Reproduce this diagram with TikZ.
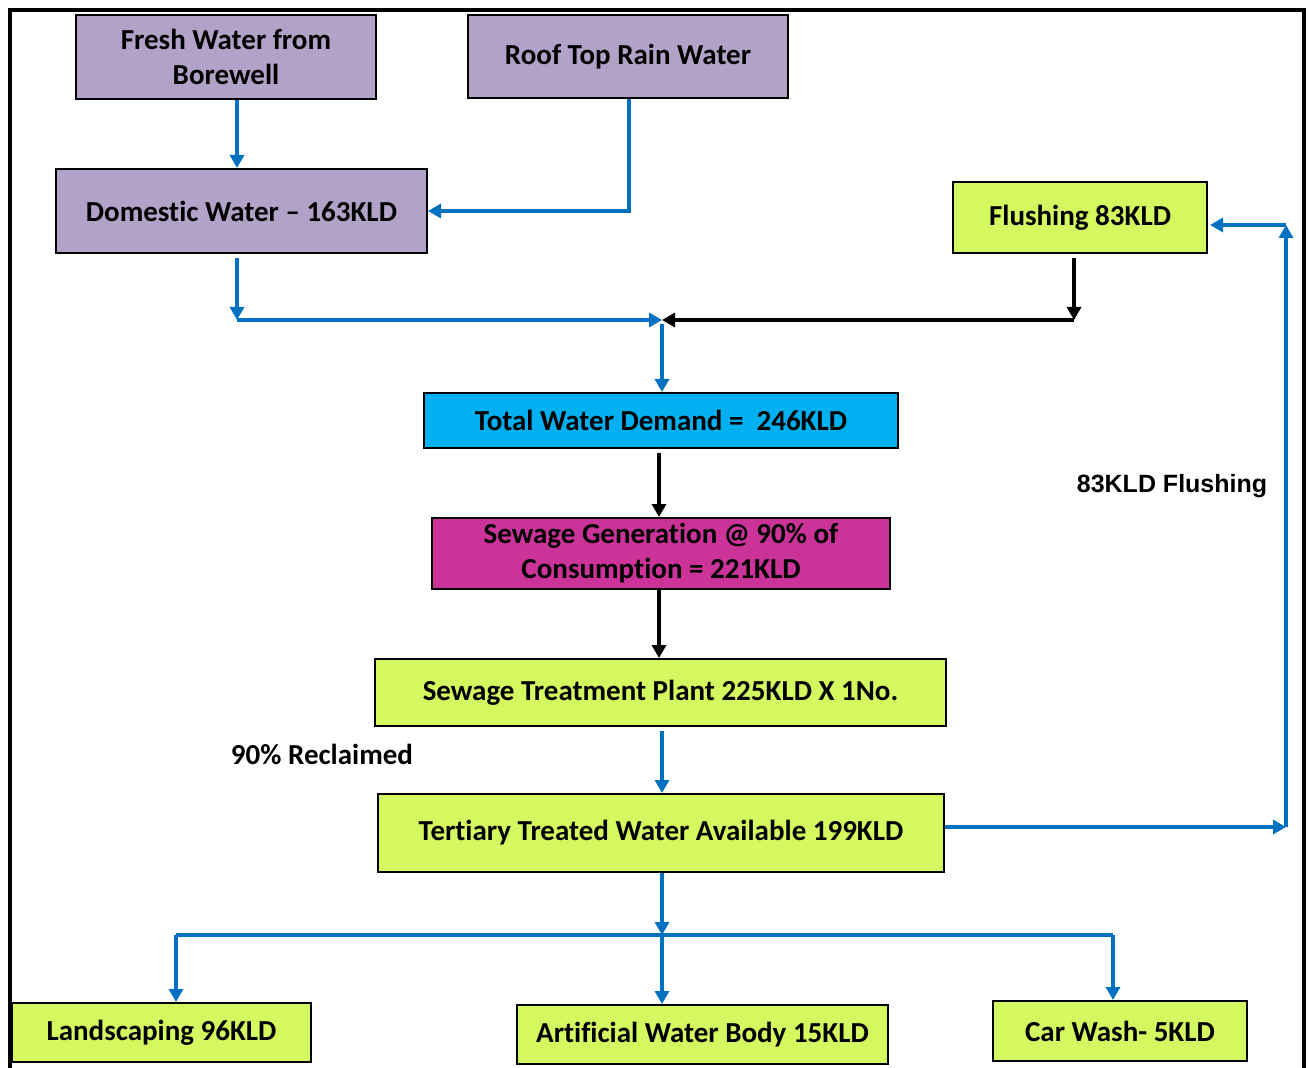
\documentclass[tikz,border=0pt]{standalone}
\usepackage{fontspec}
\setmainfont{Carlito}[RawFeature={-liga;-clig;-calt;-dlig}]
\newfontfamily\arialfont{Liberation Sans}
\usetikzlibrary{arrows.meta}
\definecolor{boxpurple}{RGB}{179,162,199}
\definecolor{boxlime}{RGB}{212,248,96}
\definecolor{boxblue}{RGB}{0,176,240}
\definecolor{boxmag}{RGB}{204,51,153}
\definecolor{arrblue}{RGB}{0,112,192}
\tikzset{
  box/.style={draw=black, line width=1pt, inner sep=0pt, align=center,
    font=\fontsize{14.5}{17.5}\selectfont\bfseries},
  pbox/.style={box, fill=boxpurple},
  lbox/.style={box, fill=boxlime},
  barrow/.style={draw=arrblue, line width=2pt, -{Triangle[length=6.5pt,width=7pt]}},
  bline/.style={draw=arrblue, line width=2pt},
  karrow/.style={draw=black, line width=2pt, -{Triangle[length=6.5pt,width=7pt]}},
  lbl/.style={font=\fontsize{14.5}{17.5}\selectfont\bfseries}
}
\begin{document}
\begin{tikzpicture}[x=0.5pt,y=-0.5pt]
\useasboundingbox (0,0) rectangle (1309,1068);
\fill[white] (0,0) rectangle (1309,1068);
\draw[line width=2pt] (10,1090) -- (10,10) -- (1304,10) -- (1304,1090);

\node[pbox, minimum width=150pt, minimum height=42pt] (bore) at (226,57) {Fresh Water from\\Borewell};
\node[pbox, minimum width=160pt, minimum height=41.5pt] (roof) at (628,56.5) {Roof Top Rain Water};
\node[pbox, minimum width=185.5pt, minimum height=42pt] (dom) at (241.5,211) {Domestic Water -- 163KLD};
\node[lbox, minimum width=127pt, minimum height=35.5pt] (flush) at (1080,217.5) {Flushing 83KLD};
\node[box, fill=boxblue, minimum width=237pt, minimum height=27.5pt] (total) at (661,420.5) {Total Water Demand =\ \ 246KLD};
\node[box, fill=boxmag, minimum width=229pt, minimum height=35.5pt] (sew) at (661,553.5) {Sewage Generation @ 90\% of\\Consumpt\kern0pt ion = 221KLD};
\node[lbox, minimum width=285.5pt, minimum height=33.5pt] (stp) at (660.5,692.5) {Sewage Treatment Plant 225KLD X 1No.};
\node[lbox, minimum width=283pt, minimum height=39pt] (tert) at (661,833) {Tert\kern0pt iary Treated Water Available 199KLD};
\node[lbox, minimum width=149.5pt, minimum height=29.5pt] (land) at (161.5,1032.5) {Landscaping 96KLD};
\node[lbox, minimum width=185.5pt, minimum height=29.5pt] (art) at (702.5,1034.5) {Art\kern0pt ificial Water Body 15KLD};
\node[lbox, minimum width=127pt, minimum height=30pt] (car) at (1120,1031) {Car Wash- 5KLD};

\node[font=\arialfont\fontsize{12.5}{15}\selectfont\bfseries] (flushlbl) at (1172,486) {83KLD Flushing};
\node[lbl] (recl) at (322,754) {90\% Reclaimed};

\coordinate (c1) at (237,320);
\coordinate (j) at (662,320);
\coordinate (c2) at (1074,320);
\coordinate (c3) at (1286,827);
\coordinate (c4) at (1286,225);
\coordinate (c5) at (662,935);
\coordinate (c6) at (176,935);
\coordinate (c7) at (1113,935);
\coordinate (xk) at (659,0);

\draw[barrow] (bore.south -| c1) -- (dom.north -| c1);
\draw[barrow] (roof.south -| 629,0) |- (dom.east);
\draw[barrow] ([yshift=-2pt]dom.south -| c1) -- (c1);
\draw[barrow] (c1) -- (j);
\draw[karrow] ([yshift=-2pt]flush.south -| c2) -- (c2);
\draw[karrow] (c2) -- (j);
\draw[barrow] ([yshift=-2pt]j) -- (total.north -| j);
\draw[karrow] ([yshift=-2pt]total.south -| xk) -- (sew.north -| xk);
\draw[karrow] (sew.south -| xk) -- (stp.north -| xk);
\draw[barrow] ([yshift=-2pt]stp.south -| j) -- (tert.north -| j);
\draw[barrow] (tert.east |- c3) -- (c3);
\draw[barrow] (c3) -- (c4);
\draw[barrow] (c4) -- ([xshift=1pt]flush.east |- c4);
\draw[barrow] (tert.south -| c5) -- (c5);
\draw[bline] (c6) -- (c7);
\draw[barrow] (c6) -- (land.north -| c6);
\draw[barrow] (c5) -- (art.north -| c5);
\draw[barrow] (c7) -- (car.north -| c7);
\end{tikzpicture}
\end{document}
